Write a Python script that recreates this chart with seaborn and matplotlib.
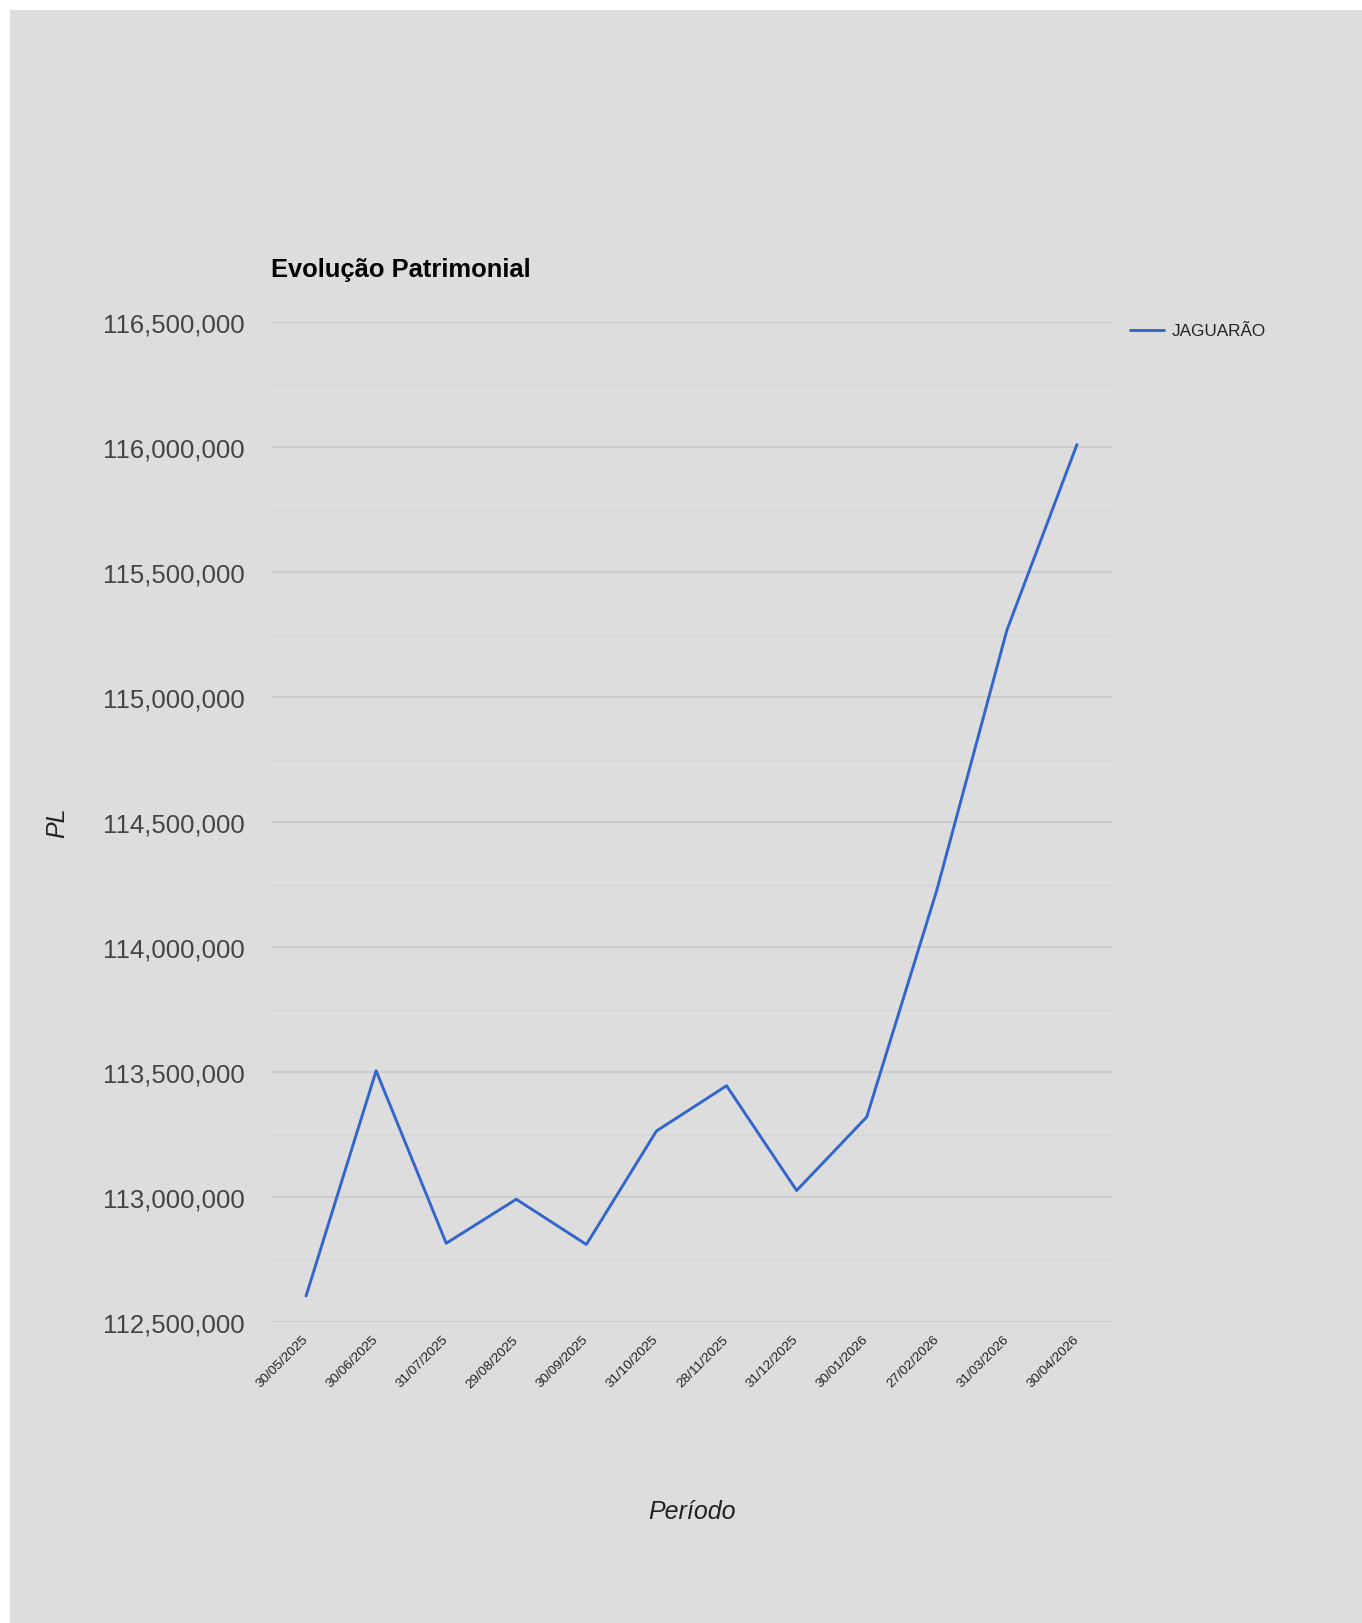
import matplotlib
matplotlib.use("Agg")
import matplotlib.pyplot as plt
import matplotlib.patches as mpatches
from matplotlib.ticker import FuncFormatter, MultipleLocator
import seaborn as sns
import pandas as pd

# Monthly net worth (PL) of the fund
periodos = ["30/05/2025", "30/06/2025", "31/07/2025", "29/08/2025", "30/09/2025",
            "31/10/2025", "28/11/2025", "31/12/2025", "30/01/2026", "27/02/2026",
            "31/03/2026", "30/04/2026"]
pl_jaguarao = [112_604_000, 113_505_000, 112_815_000, 112_991_000, 112_810_000,
               113_264_000, 113_445_000, 113_026_000, 113_320_000, 114_227_000,
               115_267_000, 116_010_000]
serie = "JAGUARÃO"
titulo = "Evolução Patrimonial"
y_label = "PL"
x_label = "Período"

W, H = 1362, 1624
BG = "#dddddd"
LINE = "#3366cc"

sns.set_theme(style="white")
plt.rcParams["font.family"] = ["Liberation Sans", "DejaVu Sans"]

fig = plt.figure(figsize=(W / 100, H / 100), dpi=100, facecolor="white")
# grey canvas with a thin white margin on the top and left
fig.patches.append(mpatches.Rectangle((10 / W, 0), 1 - 10 / W, 1 - 11 / H,
                                      transform=fig.transFigure, facecolor=BG,
                                      edgecolor="none", zorder=-5))

left, right, top, bottom = 271, 1112, 323, 1323
ax = fig.add_axes([left / W, 1 - bottom / H, (right - left) / W, (bottom - top) / H])
ax.set_facecolor("none")
ax.set_zorder(2)

df = pd.DataFrame({"Período": periodos, "PL": pl_jaguarao, "Série": serie})
sns.lineplot(data=df, x="Período", y="PL", hue="Série", palette=[LINE],
             sort=False, linewidth=2.1, ax=ax, legend=False)

ax.set_xlim(-0.5, len(periodos) - 0.5)
ax.set_ylim(112_500_000, 116_500_000)
ax.yaxis.set_major_locator(MultipleLocator(500_000))
ax.yaxis.set_minor_locator(MultipleLocator(250_000))
ax.yaxis.set_major_formatter(FuncFormatter(lambda v, _: f"{v:,.0f}"))
ax.grid(axis="y", which="major", color="#c8c8c8", linewidth=1.1, zorder=0)
ax.grid(axis="y", which="minor", color="#d5d5d5", linewidth=1.0, zorder=0)
ax.grid(axis="x", visible=False)
ax.set_axisbelow(True)
for s in ax.spines.values():
    s.set_visible(False)

ax.tick_params(axis="y", which="both", length=0, pad=19, labelsize=18.5, labelcolor="#444444")
ax.tick_params(axis="x", length=0, pad=11, labelsize=9.7, labelcolor="#222222")
ax.set_xticks(range(len(periodos)))
ax.set_xticklabels(periodos, rotation=45, ha="right", va="center", rotation_mode="anchor")

ax.set_xlabel("")
ax.set_ylabel("")
fig.text(57 / W, 1 - 823 / H, y_label, rotation=90, ha="center", va="center",
         fontsize=18, style="italic", color="#222222")
fig.text(692 / W, 1 - 1512 / H, x_label, ha="center", va="center",
         fontsize=18, style="italic", color="#222222")
fig.text(271 / W, 1 - 270 / H, titulo, ha="left", va="center",
         fontsize=18.4, fontweight="bold", color="black")

handle = plt.Line2D([], [], color=LINE, linewidth=2.1)
fig.legend([handle], [serie], loc="center left",
           bbox_to_anchor=(1130 / W, 1 - 332 / H), frameon=False,
           fontsize=12.3, handlelength=2.0, handletextpad=0.45,
           borderpad=0, borderaxespad=0, labelcolor="#222222")

fig.savefig("out.png", dpi=100, facecolor="white")
